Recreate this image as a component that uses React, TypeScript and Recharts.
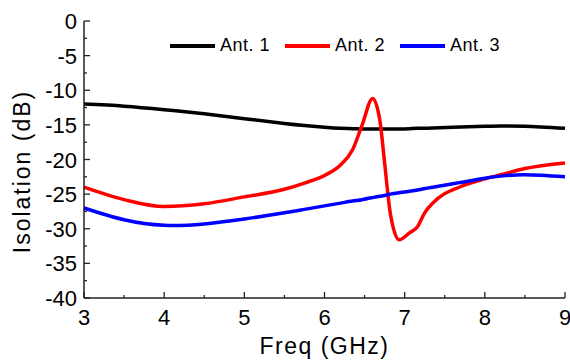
import { Legend, Line, LineChart, XAxis, YAxis } from "recharts";

const freq = [3.0, 3.5, 4.0, 4.5, 5.0, 5.5, 5.75, 6.0, 6.2, 6.35, 6.47, 6.6, 6.69, 6.75, 6.82, 6.93, 7.06, 7.16, 7.25, 7.35, 7.7, 8.0, 8.2, 8.5, 9.0];
const ant1 = [-12.0, -12.3, -12.8, -13.4, -14.1, -14.8, -15.1, -15.35, -15.5, -15.55, -15.6, -15.6, -15.6, -15.6, -15.6, -15.6, -15.55, -15.5, -15.5, -15.45, -15.3, -15.2, -15.15, -15.2, -15.5];
const ant2 = [-24.0, -25.8, -26.8, -26.4, -25.4, -24.3, -23.4, -22.3, -20.8, -18.6, -15.0, -11.2, -14.3, -20.5, -27.7, -31.6, -30.6, -29.7, -27.7, -26.3, -23.9, -22.8, -22.2, -21.3, -20.5];
const ant3 = [-27.0, -28.7, -29.5, -29.3, -28.6, -27.7, -27.2, -26.7, -26.3, -26.0, -25.8, -25.5, -25.3, -25.2, -25.0, -24.8, -24.6, -24.4, -24.2, -24.0, -23.3, -22.7, -22.4, -22.2, -22.5];

const xMajor = [3, 4, 5, 6, 7, 8, 9];
const xMinor = [3.5, 4.5, 5.5, 6.5, 7.5, 8.5];
const yMajor = [-40, -35, -30, -25, -20, -15, -10, -5, 0];
const yMinor = [-37.5, -32.5, -27.5, -22.5, -17.5, -12.5, -7.5, -2.5];

const series = [
  { key: "ant1", name: "Ant. 1", color: "#000000", curve: "natural" },
  { key: "ant2", name: "Ant. 2", color: "#ff0000", curve: "monotone" },
  { key: "ant3", name: "Ant. 3", color: "#0000ff", curve: "natural" },
];

const data = freq.map((f, i) => ({ freq: f, ant1: ant1[i], ant2: ant2[i], ant3: ant3[i] }));

const xTicks = [...xMajor, ...xMinor].sort((a, b) => a - b);
const yTicks = [...yMajor, ...yMinor].sort((a, b) => a - b);

const FONT = "'Liberation Sans', Arial, sans-serif";
const AXIS = "#222";
const MAJOR = 6;
const MINOR = 3;

const isMajorX = (v: number) => xMajor.includes(v);
const isMajorY = (v: number) => yMajor.includes(v);

const BottomTick = ({ x, y, payload }: any) => {
  const major = isMajorX(payload.value);
  return (
    <g>
      <line x1={x} x2={x} y1={y} y2={y - (major ? MAJOR : MINOR)} stroke={AXIS} strokeWidth={1.3} />
      {major && (
        <text x={x} y={y + 27} textAnchor="middle" fontSize={22} fontFamily={FONT} fill="#000">
          {payload.value}
        </text>
      )}
    </g>
  );
};

const TopTick = ({ x, y, payload }: any) => (
  <line x1={x} x2={x} y1={y} y2={y + (isMajorX(payload.value) ? MAJOR : MINOR)} stroke={AXIS} strokeWidth={1.3} />
);

const LeftTick = ({ x, y, payload }: any) => {
  const major = isMajorY(payload.value);
  return (
    <g>
      <line x1={x} x2={x + (major ? MAJOR : MINOR)} y1={y} y2={y} stroke={AXIS} strokeWidth={1.3} />
      {major && (
        <text x={x - 7} y={y + 8} textAnchor="end" fontSize={22} fontFamily={FONT} fill="#000">
          {payload.value}
        </text>
      )}
    </g>
  );
};

const RightTick = ({ x, y, payload }: any) => (
  <line x1={x} x2={x - (isMajorY(payload.value) ? MAJOR : MINOR)} y1={y} y2={y} stroke={AXIS} strokeWidth={1.3} />
);

const renderLegend = () => (
  <div style={{ display: "flex", fontFamily: FONT, fontSize: 18, color: "#000" }}>
    {series.map((s) => (
      <div key={s.key} style={{ display: "flex", alignItems: "center", width: 115 }}>
        <div style={{ width: 45, height: 4, background: s.color, marginRight: 5 }} />
        <span style={{ letterSpacing: 0.5 }}>{s.name}</span>
      </div>
    ))}
  </div>
);

export default function App() {
  return (
    <div style={{ position: "absolute", left: 0, top: 0, background: "#fff" }}>
      <LineChart width={570} height={362} data={data} margin={{ top: 21, right: 5, bottom: 4, left: 0 }}>
        <XAxis
          xAxisId="x"
          dataKey="freq"
          type="number"
          domain={[3, 9]}
          ticks={xTicks}
          interval={0}
          height={60}
          tickSize={0}
          tickMargin={0}
          tickLine={false}
          tick={<BottomTick />}
          axisLine={{ stroke: AXIS, strokeWidth: 1.5 }}
          label={{
            content: ({ viewBox }: any) => (
              <text
                x={viewBox.x + viewBox.width / 2}
                y={viewBox.y + 56}
                textAnchor="middle"
                fontSize={23}
                letterSpacing={1.5}
                fontFamily={FONT}
                fill="#000"
              >
                Freq (GHz)
              </text>
            ),
          }}
        />
        <XAxis
          xAxisId="top"
          orientation="top"
          dataKey="freq"
          type="number"
          domain={[3, 9]}
          ticks={xTicks}
          interval={0}
          height={0}
          tickSize={0}
          tickMargin={0}
          tickLine={false}
          tick={<TopTick />}
          axisLine={{ stroke: AXIS, strokeWidth: 1.5 }}
        />
        <YAxis
          yAxisId="y"
          type="number"
          domain={[-40, 0]}
          ticks={yTicks}
          interval={0}
          width={84}
          tickSize={0}
          tickMargin={0}
          tickLine={false}
          tick={<LeftTick />}
          axisLine={{ stroke: AXIS, strokeWidth: 1.5 }}
          label={{
            content: ({ viewBox }: any) => {
              const cx = viewBox.x + 22;
              const cy = viewBox.y + viewBox.height / 2 + 12;
              return (
                <text
                  x={cx}
                  y={cy}
                  transform={`rotate(-90 ${cx} ${cy})`}
                  textAnchor="middle"
                  dominantBaseline="central"
                  fontSize={23}
                  letterSpacing={2}
                  fontFamily={FONT}
                  fill="#000"
                >
                  Isolation (dB)
                </text>
              );
            },
          }}
        />
        <YAxis
          yAxisId="right"
          orientation="right"
          type="number"
          domain={[-40, 0]}
          ticks={yTicks}
          interval={0}
          width={0}
          tickSize={0}
          tickMargin={0}
          tickLine={false}
          tick={<RightTick />}
          axisLine={{ stroke: AXIS, strokeWidth: 1.5 }}
        />
        <Legend
          content={renderLegend}
          verticalAlign="middle"
          align="center"
          wrapperStyle={{ top: 35, left: 170, width: 360, height: 24 }}
        />
        {series.map((s) => (
          <Line
            key={s.key}
            xAxisId="x"
            yAxisId="y"
            type={s.curve as any}
            dataKey={s.key}
            name={s.name}
            stroke={s.color}
            strokeWidth={3.5}
            dot={false}
            isAnimationActive={false}
          />
        ))}
      </LineChart>
    </div>
  );
}
